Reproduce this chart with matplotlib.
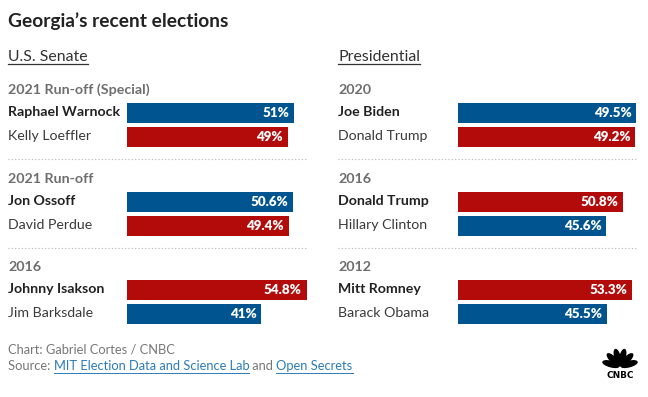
import numpy as np
import matplotlib
matplotlib.use('Agg')
import matplotlib.pyplot as plt
from matplotlib.lines import Line2D
from matplotlib.patches import Ellipse

plt.rcParams['font.family'] = ['Lato', 'DejaVu Sans']

# ---- data ----
senate_titles = ['2021 Run-off (Special)', '2021 Run-off', '2016']
senate_names = [['Raphael Warnock', 'Kelly Loeffler'],
                ['Jon Ossoff', 'David Perdue'],
                ['Johnny Isakson', 'Jim Barksdale']]
senate_values = [[51, 49], [50.6, 49.4], [54.8, 41]]
senate_party = [['D', 'R'], ['D', 'R'], ['R', 'D']]

pres_titles = ['2020', '2016', '2012']
pres_names = [['Joe Biden', 'Donald Trump'],
              ['Donald Trump', 'Hillary Clinton'],
              ['Mitt Romney', 'Barack Obama']]
pres_values = [[49.5, 49.2], [50.8, 45.6], [53.3, 45.5]]
pres_party = [['D', 'R'], ['R', 'D'], ['R', 'D']]

W, H = 648, 397
BLUE = '#00548f'
RED = '#b30a0a'
party_color = {'D': BLUE, 'R': RED}

fig = plt.figure(figsize=(W / 100, H / 100), dpi=100)


def fx(x):
    return x / W


def fy(y):
    return 1 - y / H


def underline(t, y, color):
    fig.canvas.draw()
    bb = t.get_window_extent().transformed(fig.transFigure.inverted())
    fig.add_artist(Line2D([bb.x0, bb.x1], [fy(y), fy(y)], color=color, lw=0.9))
    return bb


fig.text(fx(8), fy(21), 'Georgia\u2019s recent elections', fontsize=13.8,
         fontweight='bold', color='#222222', va='center')

columns = [
    (8, 127, 'U.S. Senate', senate_titles, senate_names, senate_values, senate_party,
     [3.28, 3.28, 3.28]),
    (338, 458, 'Presidential', pres_titles, pres_names, pres_values, pres_party,
     [3.6, 3.25, 3.27]),
]

group_y = [90, 179, 267]

for x0, bx0, head, titles, names, values, parties, scales in columns:
    t = fig.text(fx(x0), fy(57), head, fontsize=11.4, color='#333333', va='center')
    underline(t, 64, '#333333')
    for g, gy in enumerate(group_y):
        fig.text(fx(x0), fy(gy), titles[g], fontsize=10.3, fontweight='bold',
                 color='#6e6e6e', va='center')
        # bar axes in pixel box, value units inside
        top = gy + 11
        ax = fig.add_axes([fx(bx0), fy(top + 48), 60 * scales[g] / W, 48 / H])
        cols = [party_color[p] for p in parties[g]]
        ax.barh([0, 1], values[g], height=20 / 24, color=cols)
        ax.set_xlim(0, 60)
        ax.set_ylim(1.5, -0.5)
        ax.axis('off')
        for i, v in enumerate(values[g]):
            ax.annotate(f'{v:g}%', (v, i), xytext=(-3.5, 0), textcoords='offset points',
                        ha='right', va='center', color='white', fontsize=9.6,
                        fontweight='heavy')
            fig.text(fx(x0), fy(gy + 22 + 24 * i), names[g][i], fontsize=10.2,
                     fontweight='bold' if i == 0 else 'normal',
                     color='#222222' if i == 0 else '#3a3a3a', va='center')
        if g < 2:
            sy = gy + 69
            fig.add_artist(Line2D([fx(x0), fx(x0 + 299)], [fy(sy), fy(sy)],
                                  color='#b5b5b5', lw=0.8, linestyle=(0, (1, 2))))

# ---- footer ----
GREY = '#777777'
LINK = '#2b7bb9'
fig.text(fx(8), fy(350), 'Chart: Gabriel Cortes / CNBC', fontsize=9.3, color=GREY,
         va='center')
parts = [('Source: ', GREY, False), ('MIT Election Data and Science Lab', LINK, True),
         (' and ', GREY, False), ('Open Secrets', LINK, True)]
xpos = fx(8)
for txt, c, link in parts:
    t = fig.text(xpos, fy(366), txt, fontsize=9.3, color=c, va='center')
    fig.canvas.draw()
    bb = t.get_window_extent().transformed(fig.transFigure.inverted())
    if link:
        fig.add_artist(Line2D([bb.x0, bb.x1], [fy(372.5), fy(372.5)], color=c, lw=0.7))
    xpos = bb.x1

# ---- CNBC peacock ----
lax = fig.add_axes([fx(602), fy(379), 36 / W, 32 / H])
lax.set_xlim(-1.15, 1.15)
lax.set_ylim(-0.85, 1.2)
lax.set_aspect('equal')
lax.axis('off')
for ang in np.linspace(165, 15, 6):
    a = np.radians(ang)
    lax.add_patch(Ellipse((0.6 * np.cos(a), 0.6 * np.sin(a) - 0.05), 1.05, 0.34,
                          angle=ang, color='black'))
lax.text(0, -0.6, 'CNBC', ha='center', va='center', fontsize=6.4,
         fontweight='heavy', color='black', family='DejaVu Sans')

fig.savefig('out.png', dpi=100)
